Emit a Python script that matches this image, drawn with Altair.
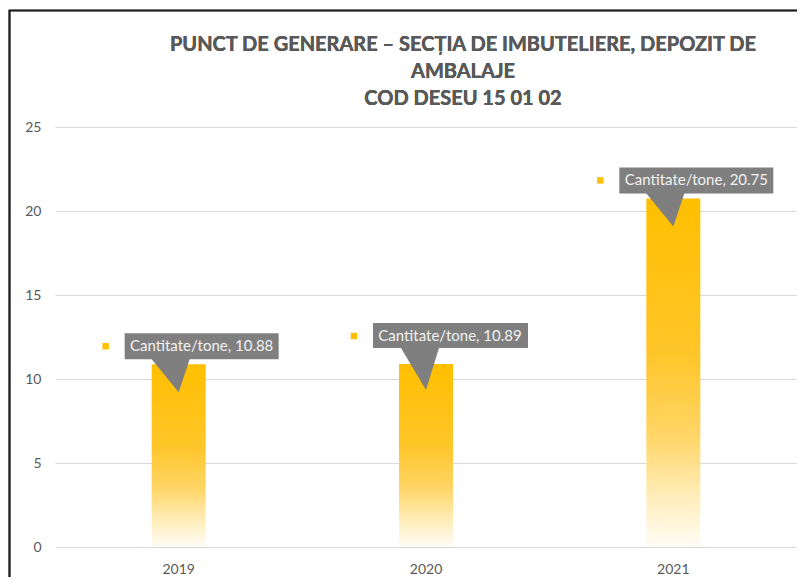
import altair as alt
import pandas as pd

years = ["2019", "2020", "2021"]
values = [10.88, 10.89, 20.75]
series_name = "Cantitate/tone"
title_lines = [
    "PUNCT DE GENERARE – SECȚIA DE IMBUTELIERE, DEPOZIT DE",
    "AMBALAJE",
    "COD DESEU 15 01 02",
]
y_ticks = [0, 5, 10, 15, 20, 25]

df = pd.DataFrame({"year": years, "value": values, "series": [series_name] * len(years)})

FONT = "Lato"
GRAY = "#595959"

x_enc = alt.X("year:N", sort=years, scale=alt.Scale(paddingInner=0, paddingOuter=0),
              axis=alt.Axis(title=None, labelAngle=0, ticks=False, domain=False,
                            labelPadding=15, labelFontSize=14, labelColor=GRAY, labelFont=FONT))
y_enc = alt.Y("value:Q", scale=alt.Scale(domain=[0, 25], nice=False),
              axis=alt.Axis(title=None, values=y_ticks, ticks=False, domain=False,
                            labelPadding=14, labelFontSize=14, labelColor=GRAY, labelFont=FONT,
                            gridColor="#d9d9d9", gridWidth=1))

base = alt.Chart(df).encode(x=x_enc, y=y_enc)

grad = alt.Gradient(
    gradient="linear", x1=0, x2=0, y1=0, y2=1,
    stops=[
        alt.GradientStop(color="#FFBF00", offset=0),
        alt.GradientStop(color="#FFC62A", offset=0.45),
        alt.GradientStop(color="#FFD566", offset=0.68),
        alt.GradientStop(color="#FFEBB3", offset=0.84),
        alt.GradientStop(color="#FFFDF7", offset=1),
    ],
)
bars = base.mark_bar(width=54, color=grad)

PATH_A = "M -54 -31 L 100 -31 L 100 -5 L 11 -5 L 0 28 L -27 -5 L -54 -5 Z"
PATH_B = "M -53 -41 L 102 -41 L 102 -16 L 13 -16 L 0 26 L -25 -16 L -53 -16 Z"

labelled = base.transform_calculate(
    label="datum.series + ', ' + format(datum.value, '.2f')"
)
low = labelled.transform_filter(alt.datum.year != "2020")
high = labelled.transform_filter(alt.datum.year == "2020")

callout_low = low.mark_point(shape=PATH_A, size=4, filled=True, fill="#7f7f7f", opacity=1, strokeWidth=0)
callout_high = high.mark_point(shape=PATH_B, size=4, filled=True, fill="#7f7f7f", opacity=1, strokeWidth=0)

txt_style = dict(font=FONT, fontSize=15, color="#f2f2f2", align="center", baseline="middle")
text_low = low.mark_text(xOffset=23, yOffset=-18, **txt_style).encode(text="label:N")
text_high = high.mark_text(xOffset=24, yOffset=-28, **txt_style).encode(text="label:N")

key_low = low.mark_square(size=42, color="#FFC000", opacity=1, xOffset=-73, yOffset=-18)
key_high = high.mark_square(size=42, color="#FFC000", opacity=1, xOffset=-72, yOffset=-28)

frame = alt.Chart(df).mark_rect(fill=None, stroke="#1a1a1a", strokeWidth=1.6).encode(
    x=alt.value(-45.5), y=alt.value(-116.5), x2=alt.value(900), y2=alt.value(700)
)

title = alt.Chart(df).mark_text(
    text=title_lines, font=FONT, fontSize=20, fontWeight="bold", color=GRAY,
    lineHeight=27, align="center", baseline="middle",
).encode(x=alt.value(408), y=alt.value(-82))

chart = alt.layer(
    frame, bars, callout_low, callout_high, text_low, text_high, key_low, key_high, title
).properties(
    width=742, height=420,
    autosize=alt.AutoSizeParams(type="none"),
    padding={"left": 47, "top": 119, "right": 0, "bottom": 30},
    background="white",
).configure_view(stroke=None)

chart.save("out.html", embed_options={"renderer": "svg", "actions": False})
